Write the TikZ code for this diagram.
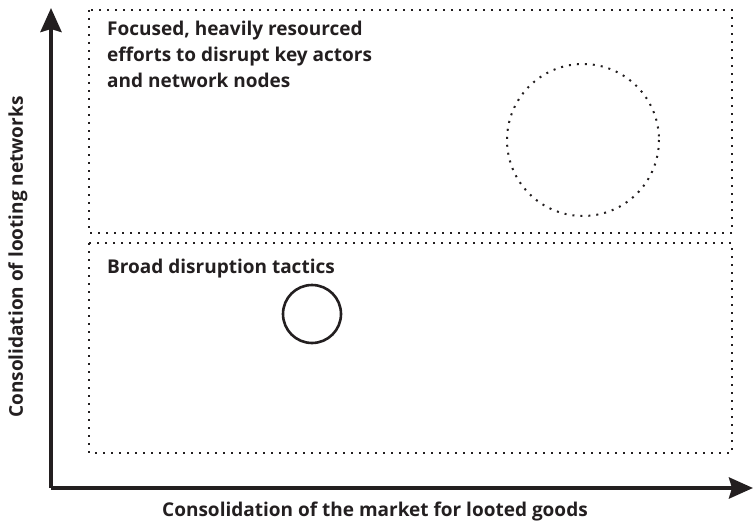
\documentclass[tikz,border=0pt]{standalone}
\usepackage{fontspec}
\setmainfont{Open Sans}
\usetikzlibrary{arrows.meta}
\definecolor{ink}{HTML}{231F20}
\begin{document}
\begin{tikzpicture}[x=1pt,y=-1pt]
\tikzstyle{axis}=[ink,line width=4pt,-{Stealth[length=24pt,width=21pt,inset=3pt]}]
\tikzstyle{dots}=[ink,line width=2pt,dash pattern=on 2pt off 6pt]
\tikzstyle{label}=[font=\fontsize{19}{26}\selectfont\bfseries,text=ink,inner sep=0pt]
\useasboundingbox (0,0) rectangle (753,527);
\coordinate (origin) at (51,488);
\coordinate (ytip) at (51,8);
\coordinate (xtip) at (753,488);
\draw [axis] (origin) -- (ytip);
\draw [axis] (origin) -- (xtip);
\draw (375,512) node [label] (xlabel) {Consolidation of the market for looted goods};
\draw (18,257) node [label,rotate=90] (ylabel) {Consolidation of looting networks};
\draw [dots] (89,10) rectangle (732,233);
\draw [dots] (89,243) rectangle (732,453);
\draw (107,21) node [label,anchor=north west,align=left] (focused) {Focused, heavily resourced\\efforts to disrupt key actors\\and network nodes};
\draw (107,259) node [label,anchor=north west] (broad) {Broad disruption tactics};
\draw [dots] (583,140) circle (76);
\draw [ink,line width=2.6pt] (312,314) circle (29);
\end{tikzpicture}
\end{document}
